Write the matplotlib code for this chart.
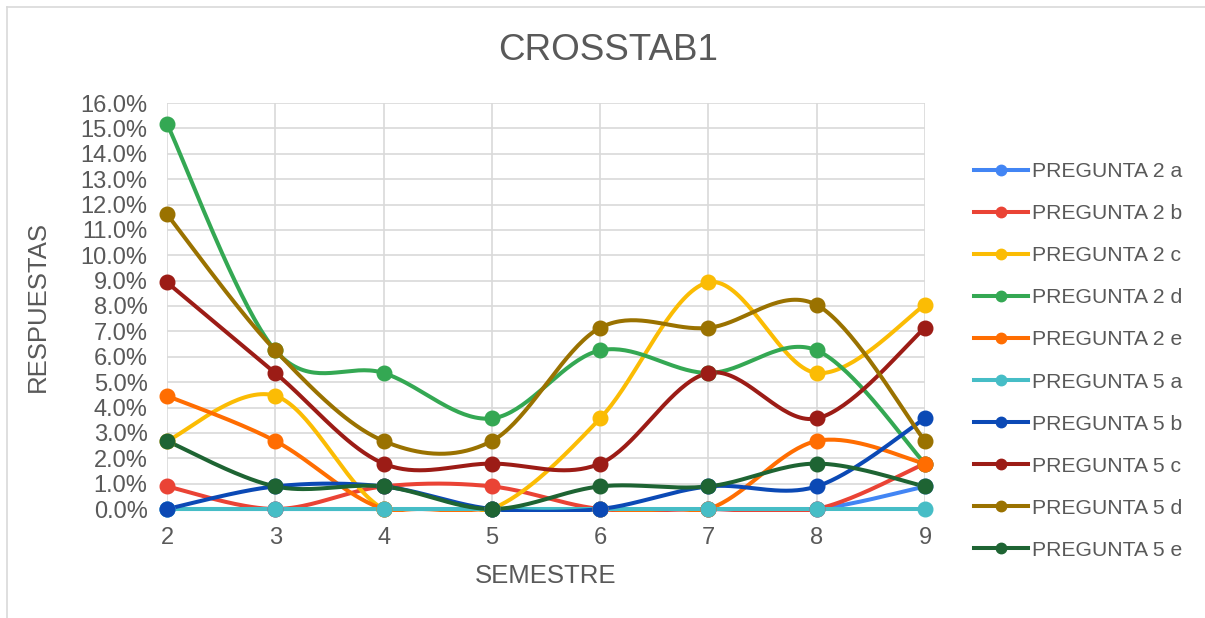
import numpy as np
import matplotlib
matplotlib.use("Agg")
from matplotlib import pyplot as plt
from matplotlib.lines import Line2D
from matplotlib.patches import Rectangle
from matplotlib.ticker import PercentFormatter, MultipleLocator

plt.rcParams['font.family'] = ['Liberation Sans', 'DejaVu Sans']

semestres = [2, 3, 4, 5, 6, 7, 8, 9]

series_names = ['PREGUNTA 2 a', 'PREGUNTA 2 b', 'PREGUNTA 2 c', 'PREGUNTA 2 d',
                'PREGUNTA 2 e', 'PREGUNTA 5 a', 'PREGUNTA 5 b', 'PREGUNTA 5 c',
                'PREGUNTA 5 d', 'PREGUNTA 5 e']

# porcentaje de respuestas por semestre
p2a = [0.00, 0.00, 0.00, 0.00, 0.00, 0.00, 0.00, 0.89]
p2b = [0.89, 0.00, 0.89, 0.89, 0.00, 0.00, 0.00, 1.79]
p2c = [2.68, 4.46, 0.00, 0.00, 3.57, 8.93, 5.36, 8.04]
p2d = [15.18, 6.25, 5.36, 3.57, 6.25, 5.36, 6.25, 1.79]
p2e = [4.46, 2.68, 0.00, 0.00, 0.00, 0.00, 2.68, 1.79]
p5a = [0.00, 0.00, 0.00, 0.00, 0.00, 0.00, 0.00, 0.00]
p5b = [0.00, 0.89, 0.89, 0.00, 0.00, 0.89, 0.89, 3.57]
p5c = [8.93, 5.36, 1.79, 1.79, 1.79, 5.36, 3.57, 7.14]
p5d = [11.61, 6.25, 2.68, 2.68, 7.14, 7.14, 8.04, 2.68]
p5e = [2.68, 0.89, 0.89, 0.00, 0.89, 0.89, 1.79, 0.89]

colors = ['#4285F4', '#EA4335', '#FBBC04', '#34A853', '#FF6D01',
          '#46BDC6', '#0B49B5', '#9C1C16', '#9A7200', '#1E6433']


def smooth(x, y, n=40):
    # curva suavizada: Bezier cubica con puntos de control Catmull-Rom
    x = np.asarray(x, float)
    y = np.asarray(y, float)
    px = np.concatenate([[x[0]], x, [x[-1]]])
    py = np.concatenate([[y[0]], y, [y[-1]]])
    t = np.linspace(0, 1, n)
    xs, ys = [], []
    for i in range(1, len(px) - 2):
        p0 = np.array([px[i], py[i]])
        p3 = np.array([px[i + 1], py[i + 1]])
        c1 = p0 + (np.array([px[i + 1], py[i + 1]]) - np.array([px[i - 1], py[i - 1]])) / 6
        c2 = p3 - (np.array([px[i + 2], py[i + 2]]) - np.array([px[i], py[i]])) / 6
        b = ((1 - t) ** 3)[:, None] * p0 + (3 * (1 - t) ** 2 * t)[:, None] * c1 \
            + (3 * (1 - t) * t ** 2)[:, None] * c2 + (t ** 3)[:, None] * p3
        xs.append(b[:, 0])
        ys.append(b[:, 1])
    return np.concatenate(xs), np.concatenate(ys)


fig = plt.figure(figsize=(12.05, 6.18), dpi=100)
ax = fig.add_axes([167 / 1205, 1 - 509 / 618, (925 - 167) / 1205, (509 - 103) / 618])

# las curvas se recortan al area de trazado (un poco por debajo de 0%)
clip = Rectangle((-0.05, -3 / 406), 1.1, 1.2, transform=ax.transAxes,
                 facecolor='none', edgecolor='none')
ax.add_patch(clip)

data = [p2a, p2b, p2c, p2d, p2e, p5a, p5b, p5c, p5d, p5e]
handles = []
for name, vals, c in zip(series_names, data, colors):
    sx, sy = smooth(semestres, vals)
    ln, = ax.plot(sx, sy, color=c, lw=2.9, zorder=3, solid_capstyle='round')
    ln.set_clip_path(clip)
    ax.plot(semestres, vals, 'o', color=c, ms=10.5, clip_on=False, zorder=4)
    handles.append(Line2D([], [], color=c, lw=2.9, marker='o', ms=7.5))

ax.set_xlim(2, 9)
ax.set_ylim(0, 16)
ax.set_xticks(semestres)
ax.yaxis.set_major_locator(MultipleLocator(1))
ax.yaxis.set_major_formatter(PercentFormatter(decimals=1))
for s in ax.spines.values():
    s.set_visible(False)
ax.grid(True, color='#D9D9D9', lw=1.2, zorder=0)
ax.set_axisbelow(True)
ax.tick_params(axis='both', length=0, labelsize=17, labelcolor='#595959')
ax.tick_params(axis='y', pad=14)
ax.tick_params(axis='x', pad=13)

ax.set_xlabel('SEMESTRE', fontsize=18.5, color='#595959', labelpad=11)
ax.set_ylabel('RESPUESTAS', fontsize=18.5, color='#595959', labelpad=22)
fig.text(0.505, 1 - 51 / 618, 'CROSSTAB1', fontsize=26.5, color='#595959',
         ha='center', va='center')

fig.legend(handles, series_names, loc='center left',
           bbox_to_anchor=(963 / 1205, 1 - 361 / 618), frameon=False,
           fontsize=15.2, labelcolor='#595959', handlelength=2.6,
           handletextpad=0.15, labelspacing=1.09, borderpad=0)

# borde del area del grafico
fig.add_artist(Line2D([6.5 / 1205, 1], [1 - 7 / 618, 1 - 7 / 618], color='#D9D9D9', lw=1.2))
fig.add_artist(Line2D([6.5 / 1205, 6.5 / 1205], [0, 1 - 7 / 618], color='#D9D9D9', lw=1.2))

fig.savefig('out.png', dpi=100)
